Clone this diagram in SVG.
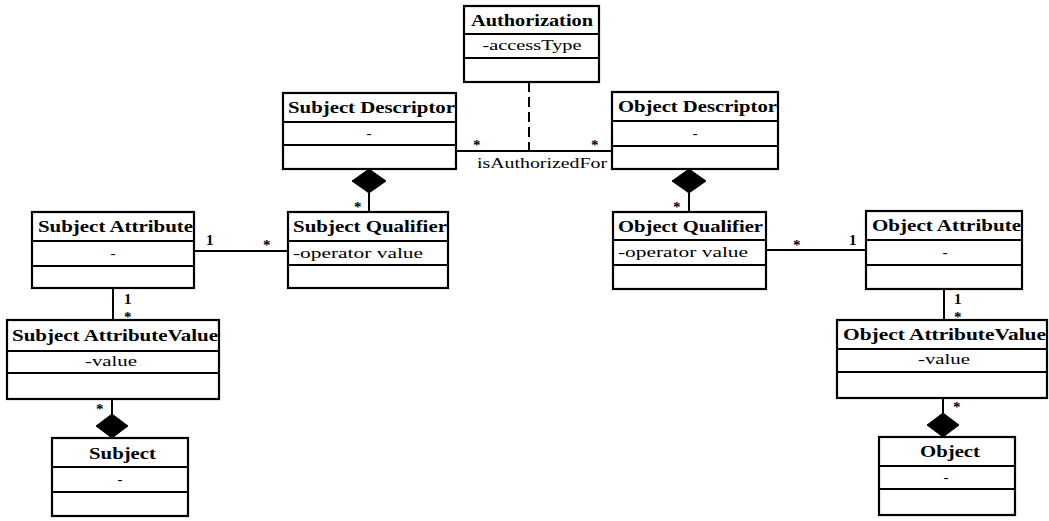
<svg xmlns="http://www.w3.org/2000/svg" width="1049" height="521" viewBox="0 0 1049 521">
<style>
.box{fill:#fff;stroke:#000;stroke-width:2.2}
.sep{stroke:#000;stroke-width:2}
.t{font-family:"Liberation Serif","Times New Roman",serif;font-weight:bold;font-size:16px;fill:#000}
.a{font-family:"Liberation Serif","Times New Roman",serif;font-size:15px;fill:#000;text-anchor:middle}
.m{font-family:"Liberation Serif","Times New Roman",serif;font-size:15px;fill:#000;font-weight:bold}
.ln{stroke:#000;stroke-width:2;fill:none}
.dm{fill:#000;stroke:#000;stroke-width:1}
</style>
<rect width="1049" height="521" fill="#fff"/>
<g id="connectors">
<line class="ln" x1="456" y1="151" x2="612" y2="151"/>
<line class="ln" x1="529" y1="82" x2="529" y2="151" stroke-width="3.5" stroke-dasharray="10,5"/>
<line class="ln" x1="369" y1="193" x2="369" y2="212"/>
<polygon class="dm" points="369,169 386,181 369,193 352,181"/>
<line class="ln" x1="689" y1="193" x2="689" y2="212"/>
<polygon class="dm" points="689,169 706,181 689,193 672,181"/>
<line class="ln" x1="194" y1="251" x2="288" y2="251"/>
<line class="ln" x1="766" y1="250" x2="866" y2="250"/>
<line class="ln" x1="113" y1="288" x2="113" y2="320"/>
<line class="ln" x1="944" y1="289" x2="944" y2="320"/>
<line class="ln" x1="112" y1="399" x2="112" y2="415"/>
<polygon class="dm" points="112,414 128,426 112,438 96,426"/>
<line class="ln" x1="943" y1="398" x2="943" y2="413"/>
<polygon class="dm" points="943,413 959,425 943,437 927,425"/>
<text class="m" x="473" y="150">*</text>
<text class="m" x="591" y="150">*</text>
<text class="a" x="542" y="168" textLength="130" lengthAdjust="spacingAndGlyphs">isAuthorizedFor</text>
<text class="m" x="354" y="212">*</text>
<text class="m" x="673" y="212">*</text>
<text class="m" x="206" y="245">1</text>
<text class="m" x="263" y="250">*</text>
<text class="m" x="793" y="250">*</text>
<text class="m" x="849" y="245">1</text>
<text class="m" x="124" y="304">1</text>
<text class="m" x="124" y="322">*</text>
<text class="m" x="954" y="304">1</text>
<text class="m" x="954" y="322">*</text>
<text class="m" x="96" y="414">*</text>
<text class="m" x="953" y="412">*</text>
</g>
<g id="authorization">
<rect class="box" x="464" y="6" width="135" height="76"/>
<line class="sep" x1="464" y1="34" x2="599" y2="34"/>
<line class="sep" x1="464" y1="58" x2="599" y2="58"/>
<text class="t" x="471" y="26" textLength="122" lengthAdjust="spacingAndGlyphs">Authorization</text>
<text class="a" x="532" y="50" textLength="99" lengthAdjust="spacingAndGlyphs">-accessType</text>
</g>
<g id="subject-descriptor">
<rect class="box" x="283" y="93" width="173" height="76"/>
<line class="sep" x1="283" y1="122" x2="456" y2="122"/>
<line class="sep" x1="283" y1="145" x2="456" y2="145"/>
<text class="t" x="288" y="113" textLength="167" lengthAdjust="spacingAndGlyphs">Subject Descriptor</text>
<text class="a" x="369" y="138">-</text>
</g>
<g id="object-descriptor">
<rect class="box" x="612" y="92" width="166" height="77"/>
<line class="sep" x1="612" y1="121" x2="778" y2="121"/>
<line class="sep" x1="612" y1="146" x2="778" y2="146"/>
<text class="t" x="618" y="112" textLength="159" lengthAdjust="spacingAndGlyphs">Object Descriptor</text>
<text class="a" x="695" y="138">-</text>
</g>
<g id="subject-qualifier">
<rect class="box" x="288" y="212" width="160" height="76"/>
<line class="sep" x1="288" y1="241" x2="448" y2="241"/>
<line class="sep" x1="288" y1="265" x2="448" y2="265"/>
<text class="t" x="293" y="232" textLength="154" lengthAdjust="spacingAndGlyphs">Subject Qualifier</text>
<text class="a" x="358" y="258" textLength="130" lengthAdjust="spacingAndGlyphs">-operator value</text>
</g>
<g id="subject-attribute">
<rect class="box" x="32" y="212" width="162" height="76"/>
<line class="sep" x1="32" y1="241" x2="194" y2="241"/>
<line class="sep" x1="32" y1="266" x2="194" y2="266"/>
<text class="t" x="38" y="232" textLength="155" lengthAdjust="spacingAndGlyphs">Subject Attribute</text>
<text class="a" x="113" y="258">-</text>
</g>
<g id="subject-attribute-value">
<rect class="box" x="7" y="320" width="212" height="79"/>
<line class="sep" x1="7" y1="351" x2="219" y2="351"/>
<line class="sep" x1="7" y1="373" x2="219" y2="373"/>
<text class="t" x="12" y="341" textLength="206" lengthAdjust="spacingAndGlyphs">Subject AttributeValue</text>
<text class="a" x="111" y="366" textLength="52" lengthAdjust="spacingAndGlyphs">-value</text>
</g>
<g id="subject">
<rect class="box" x="52" y="438" width="136" height="78"/>
<line class="sep" x1="52" y1="467" x2="188" y2="467"/>
<line class="sep" x1="52" y1="492" x2="188" y2="492"/>
<text class="t" x="89" y="459" textLength="67" lengthAdjust="spacingAndGlyphs">Subject</text>
<text class="a" x="120" y="484">-</text>
</g>
<g id="object-qualifier">
<rect class="box" x="613" y="212" width="153" height="77"/>
<line class="sep" x1="613" y1="240" x2="766" y2="240"/>
<line class="sep" x1="613" y1="265" x2="766" y2="265"/>
<text class="t" x="618" y="232" textLength="145" lengthAdjust="spacingAndGlyphs">Object Qualifier</text>
<text class="a" x="683" y="257" textLength="130" lengthAdjust="spacingAndGlyphs">-operator value</text>
</g>
<g id="object-attribute">
<rect class="box" x="866" y="211" width="156" height="78"/>
<line class="sep" x1="866" y1="240" x2="1022" y2="240"/>
<line class="sep" x1="866" y1="265" x2="1022" y2="265"/>
<text class="t" x="872" y="231" textLength="149" lengthAdjust="spacingAndGlyphs">Object Attribute</text>
<text class="a" x="945" y="257">-</text>
</g>
<g id="object-attribute-value">
<rect class="box" x="837" y="320" width="210" height="78"/>
<line class="sep" x1="837" y1="349" x2="1047" y2="349"/>
<line class="sep" x1="837" y1="372" x2="1047" y2="372"/>
<text class="t" x="843" y="340" textLength="203" lengthAdjust="spacingAndGlyphs">Object AttributeValue</text>
<text class="a" x="944" y="364" textLength="52" lengthAdjust="spacingAndGlyphs">-value</text>
</g>
<g id="object">
<rect class="box" x="879" y="437" width="136" height="78"/>
<line class="sep" x1="879" y1="466" x2="1015" y2="466"/>
<line class="sep" x1="879" y1="489" x2="1015" y2="489"/>
<text class="t" x="920" y="457" textLength="60" lengthAdjust="spacingAndGlyphs">Object</text>
<text class="a" x="946" y="482">-</text>
</g>
</svg>
